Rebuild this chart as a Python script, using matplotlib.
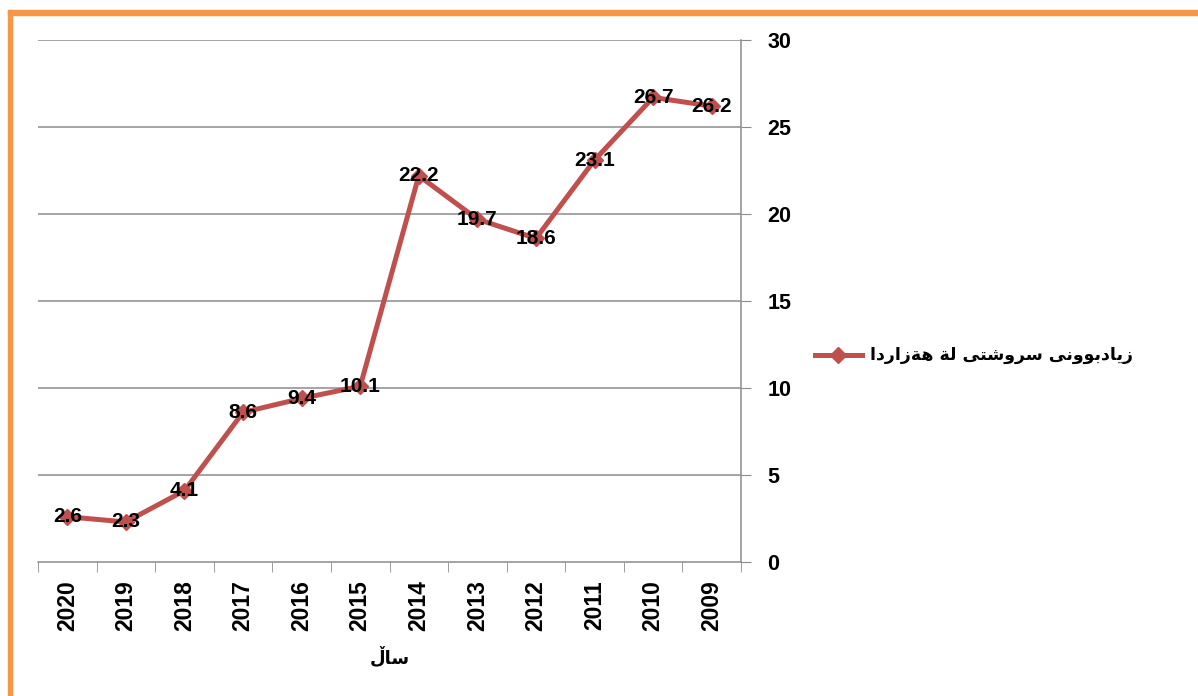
import matplotlib.pyplot as plt
from matplotlib.lines import Line2D
from matplotlib.patches import Rectangle
import matplotlib.ticker as mticker
import numpy as np

YEARS = ['2020', '2019', '2018', '2017', '2016', '2015',
         '2014', '2013', '2012', '2011', '2010', '2009']
RATE = [2.6, 2.3, 4.1, 8.6, 9.4, 10.1, 22.2, 19.7, 18.6, 23.1, 26.7, 26.2]
Y_TICKS = [0, 5, 10, 15, 20, 25, 30]

LEGEND_TEXT = 'زیادبوونی سروشتی لة هةزاردا'
X_LABEL = 'ساڵ'

LINE_COLOR = '#C0504D'
GRID_COLOR = '#8C8C8C'
BORDER_COLOR = '#F79646'

# matplotlib has no Arabic shaping, so map letters to presentation forms
# (isolated, final, initial, medial); two-form letters only join to the right
FORMS = {
    'ز': ('\uFEAF', '\uFEB0'),
    'ی': ('\uFBFC', '\uFBFD', '\uFBFE', '\uFBFF'),
    'ا': ('\uFE8D', '\uFE8E'),
    'د': ('\uFEA9', '\uFEAA'),
    'ب': ('\uFE8F', '\uFE90', '\uFE91', '\uFE92'),
    'و': ('\uFEED', '\uFEEE'),
    'ن': ('\uFEE5', '\uFEE6', '\uFEE7', '\uFEE8'),
    'س': ('\uFEB1', '\uFEB2', '\uFEB3', '\uFEB4'),
    'ر': ('\uFEAD', '\uFEAE'),
    'ش': ('\uFEB5', '\uFEB6', '\uFEB7', '\uFEB8'),
    'ت': ('\uFE95', '\uFE96', '\uFE97', '\uFE98'),
    'ل': ('\uFEDD', '\uFEDE', '\uFEDF', '\uFEE0'),
    'ة': ('\uFE93', '\uFE94'),
    'ه': ('\uFEE9', '\uFEEA', '\uFEEB', '\uFEEC'),
}


def shape(text):
    out = []
    for i, c in enumerate(text):
        if c not in FORMS:
            out.append(c)
            continue
        prev = text[i - 1] if i > 0 else ' '
        nxt = text[i + 1] if i + 1 < len(text) else ' '
        join_prev = prev in FORMS and len(FORMS[prev]) == 4
        join_next = len(FORMS[c]) == 4 and (nxt in FORMS or nxt == 'ڵ')
        f = FORMS[c]
        if join_prev and join_next:
            out.append(f[3])
        elif join_prev:
            out.append(f[1])
        elif join_next:
            out.append(f[2])
        else:
            out.append(f[0])
    return ''.join(reversed(out))


plt.rcParams['font.family'] = ['Liberation Sans', 'DejaVu Sans']

W, H = 1198, 696
fig = plt.figure(figsize=(W / 100, H / 100), dpi=100)
ax = fig.add_axes([38 / W, 1 - 562 / H, (741 - 38) / W, (562 - 40) / H])

x = np.arange(len(YEARS))
ax.plot(x, RATE, color=LINE_COLOR, lw=3.6, marker='D', ms=8,
        markerfacecolor=LINE_COLOR, markeredgecolor=LINE_COLOR, zorder=3)
for xi, v in zip(x, RATE):
    ax.text(xi, v, f'{v:g}', ha='center', va='center', fontsize=15,
            fontweight='bold', color='black', zorder=4)

ax.set_xlim(-0.5, len(YEARS) - 0.5)
ax.set_ylim(0, 30)

ax.xaxis.set_major_locator(mticker.FixedLocator(x))
ax.set_xticklabels(YEARS, rotation=90, fontsize=16.5, fontweight='bold')
ax.xaxis.set_minor_locator(mticker.FixedLocator(np.arange(-0.5, len(YEARS), 1)))
ax.tick_params(axis='x', which='major', length=0, pad=13)
ax.tick_params(axis='x', which='minor', length=7, color=GRID_COLOR, direction='out')

ax.yaxis.tick_right()
ax.set_yticks(Y_TICKS)
ax.set_yticklabels([str(t) for t in Y_TICKS], fontsize=15.5, fontweight='bold')
ax.tick_params(axis='y', length=7, color=GRID_COLOR, pad=12)

for t in Y_TICKS[1:]:
    ax.axhline(t, color=GRID_COLOR, lw=1.1, zorder=1)

for side in ('top', 'left'):
    ax.spines[side].set_visible(False)
for side in ('right', 'bottom'):
    ax.spines[side].set_color(GRID_COLOR)
    ax.spines[side].set_linewidth(1.1)

fig.text(390 / W, 1 - 657 / H, shape(X_LABEL), ha='center', va='center',
         fontsize=13, fontweight='bold', family=['DejaVu Sans'])

# legend entry
fig.add_artist(Line2D([815 / W, 862 / W], [1 - 355 / H, 1 - 355 / H],
                      color=LINE_COLOR, lw=3.6, transform=fig.transFigure))
fig.add_artist(Line2D([838 / W], [1 - 355 / H], color=LINE_COLOR, marker='D',
                      ms=8, transform=fig.transFigure))
fig.text(870 / W, 1 - 355 / H, shape(LEGEND_TEXT), ha='left', va='center',
         fontsize=12.5, fontweight='bold', family=['DejaVu Sans'])

# orange frame
fig.add_artist(Rectangle((8 / W, 0), 4 / W, 1 - 10 / H, color=BORDER_COLOR,
                         transform=fig.transFigure))
fig.add_artist(Rectangle((8 / W, 1 - 15 / H), 1 - 8 / W, 5 / H,
                         color=BORDER_COLOR, transform=fig.transFigure))

fig.savefig('out.png', dpi=100)
